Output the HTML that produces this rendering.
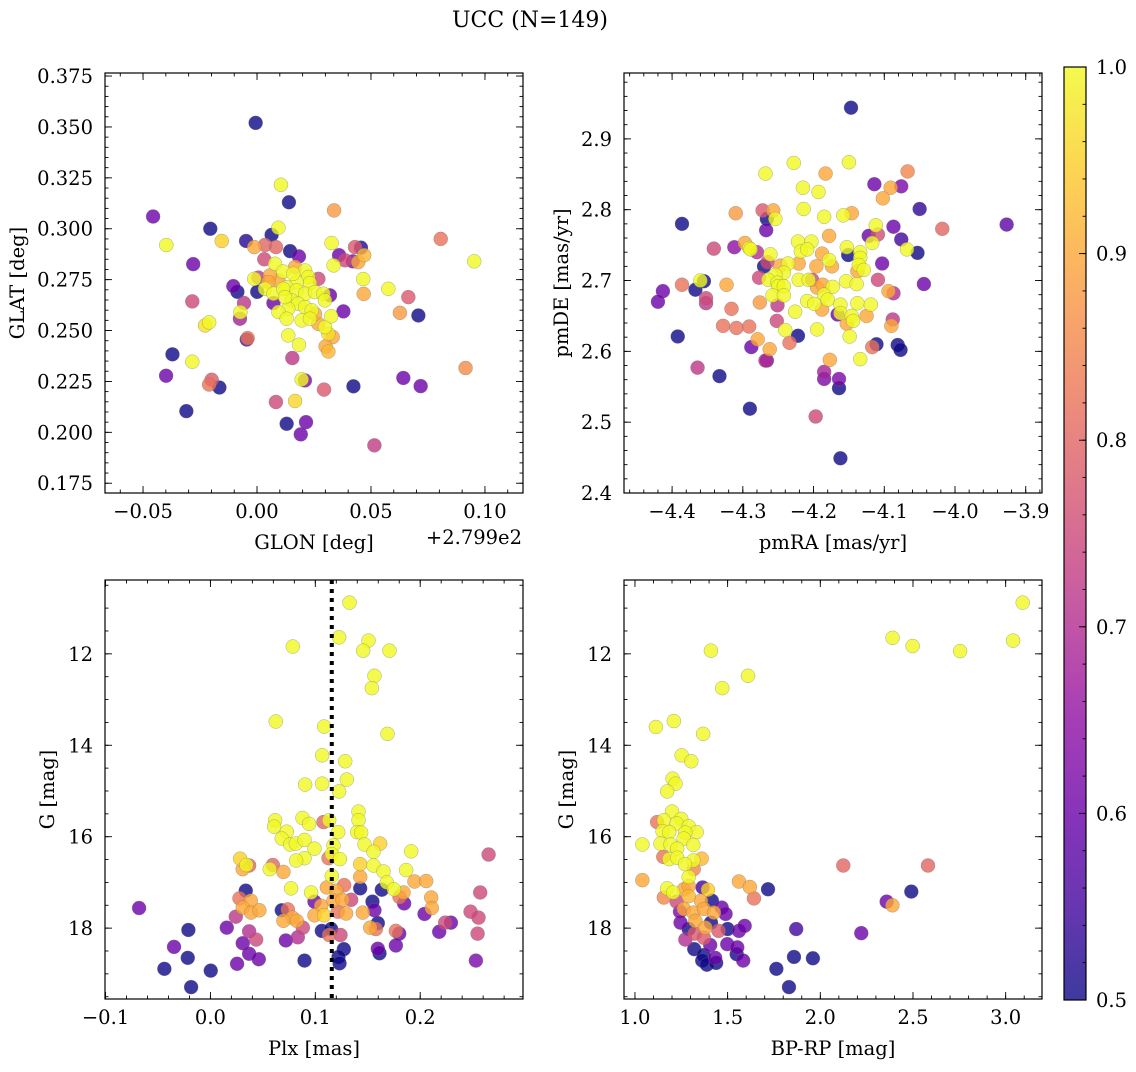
<!DOCTYPE html>
<html><head><meta charset="utf-8"><style>
html,body{margin:0;padding:0;background:#fff;}
svg text{font-family:"DejaVu Serif","Liberation Serif",serif;fill:#000;}
</style></head><body>
<svg id="fig" width="1136" height="1067" viewBox="0 0 1136 1067" xmlns="http://www.w3.org/2000/svg">
<text x="530" y="27" font-size="22" text-anchor="middle">UCC (N=149)</text>
</svg>
<script>
// ---------- data ----------
// Panel 1: GLON offset (deg, relative to 279.9), GLAT (deg), membership prob
const glonX=[-0.0006,0.0105,0.014,-0.0456,0.0338,-0.0205,0.0094,0.0064,-0.0398,-0.0155,-0.0048,-0.0012,0.0035,0.0083,0.0327,0.043,0.0456,0.0806,0.0953,0.0145,0.0184,0.0032,0.036,0.0386,0.042,0.0444,0.047,0.0336,-0.028,0.0466,0.0468,0.0576,0.0664,0.0627,0.0708,0.0379,-0.0284,-0.0104,-0.0086,-0.0012,0.0006,0.0001,-0.0057,-0.0075,-0.0073,-0.0228,-0.021,-0.0045,-0.0041,-0.0371,-0.0284,-0.0399,-0.0199,-0.021,-0.0165,-0.031,0.0155,0.0137,0.0184,0.0196,0.021,0.0083,0.0167,0.013,0.0215,0.0192,0.0294,0.0423,0.0515,0.0642,0.0718,0.0915,0.0298,0.0313,0.0332,0.0301,0.0313,0.0325,0.0269,0.0079,0.0115,0.0167,0.0211,0.0225,0.0232,0.0269,0.0174,0.013,0.0094,0.0057,0.0035,0.0072,0.0115,0.0174,0.0211,0.0254,0.0291,0.032,0.0152,0.0181,0.0211,0.024,0.0137,0.0094,0.0072,0.0196,0.0232,0.0254,0.005,0.0159,0.013,0.0298,0.0123];
const glatY=[0.352,0.3216,0.313,0.306,0.309,0.300,0.3005,0.297,0.292,0.294,0.294,0.291,0.292,0.291,0.293,0.291,0.2907,0.295,0.284,0.289,0.2864,0.285,0.287,0.2845,0.284,0.2836,0.287,0.282,0.2826,0.2753,0.268,0.2705,0.2664,0.2587,0.2574,0.2594,0.2643,0.2718,0.269,0.2754,0.276,0.269,0.2635,0.2558,0.259,0.2525,0.254,0.2456,0.2463,0.2383,0.2347,0.2278,0.2258,0.2235,0.222,0.2104,0.2365,0.2476,0.243,0.226,0.2255,0.2149,0.2154,0.2042,0.205,0.199,0.221,0.2226,0.1936,0.2267,0.2227,0.2316,0.2517,0.2484,0.2468,0.2422,0.2397,0.257,0.2533,0.2828,0.279,0.2812,0.2795,0.2763,0.2733,0.2754,0.2738,0.2713,0.2746,0.2771,0.2705,0.2681,0.2705,0.2697,0.2681,0.2689,0.2681,0.2673,0.2648,0.2632,0.2615,0.2599,0.2607,0.2591,0.2635,0.255,0.2558,0.2582,0.2738,0.2779,0.2558,0.2648,0.2664];
const glonP=[0.5,1,0.5,0.6,0.88,0.5,1,0.5,1,0.95,0.52,0.9,0.8,0.8,1,0.78,0.52,0.82,1,0.5,0.6,0.75,0.6,0.75,0.62,0.9,0.92,1,0.6,1,0.9,1,0.78,0.88,0.5,0.6,0.75,0.6,0.5,1,0.72,0.5,0.72,0.68,1,0.97,1,0.55,0.83,0.5,1,0.6,0.78,0.82,0.5,0.5,0.72,1,1,1,0.62,0.75,0.96,0.5,0.6,0.6,0.78,0.5,0.73,0.6,0.6,0.86,1,0.97,0.9,0.9,0.92,1,0.9,1,1,0.9,1,1,1,0.75,1,1,0.9,0.9,1,1,1,1,1,1,1,0.6,1,1,1,1,1,1,0.6,1,1,0.9,0.9,1,1,1,1];
// Panel 2: proper motions (mas/yr)
const pmRA=[-4.147,-4.228,-4.150,-4.268,-4.183,-4.067,-4.215,-4.193,-4.114,-4.091,-4.076,-4.102,-4.050,-4.214,-4.185,-4.158,-4.146,-4.310,-4.272,-4.257,-4.266,-4.254,-4.386,-3.927,-4.267,-4.178,-4.112,-4.087,-4.018,-4.122,-4.109,-4.076,-4.117,-4.068,-4.053,-4.297,-4.291,-4.289,-4.280,-4.312,-4.341,-4.261,-4.222,-4.203,-4.218,-4.209,-4.188,-4.153,-4.151,-4.134,-4.134,-4.103,-4.178,-4.174,-4.196,-4.221,-4.236,-4.247,-4.270,-4.265,-4.242,-4.254,-4.277,-4.264,-4.251,-4.250,-4.242,-4.258,-4.242,-4.251,-4.276,-4.221,-4.207,-4.202,-4.195,-4.187,-4.173,-4.185,-4.180,-4.209,-4.199,-4.188,-4.162,-4.138,-4.119,-4.154,-4.139,-4.136,-4.129,-4.138,-4.109,-4.044,-4.094,-4.087,-4.360,-4.355,-4.367,-4.386,-4.413,-4.420,-4.352,-4.352,-4.323,-4.316,-4.226,-4.166,-4.162,-4.146,-4.153,-4.144,-4.125,-4.088,-4.090,-4.252,-4.240,-4.195,-4.149,-4.222,-4.328,-4.309,-4.291,-4.279,-4.234,-4.288,-4.262,-4.392,-4.111,-4.117,-4.081,-4.077,-4.134,-4.177,-4.268,-4.266,-4.364,-4.333,-4.185,-4.185,-4.164,-4.164,-4.290,-4.197,-4.162];
const pmDE=[2.944,2.866,2.867,2.851,2.851,2.854,2.831,2.825,2.836,2.831,2.833,2.816,2.801,2.801,2.790,2.792,2.795,2.795,2.799,2.799,2.787,2.787,2.780,2.779,2.771,2.763,2.778,2.776,2.773,2.763,2.765,2.758,2.753,2.744,2.739,2.753,2.746,2.744,2.740,2.747,2.745,2.737,2.755,2.755,2.741,2.744,2.738,2.747,2.736,2.740,2.732,2.724,2.729,2.720,2.720,2.724,2.724,2.721,2.720,2.726,2.711,2.708,2.704,2.701,2.697,2.692,2.692,2.679,2.679,2.665,2.669,2.701,2.701,2.701,2.690,2.694,2.691,2.680,2.673,2.671,2.667,2.659,2.666,2.668,2.666,2.699,2.695,2.722,2.715,2.713,2.701,2.695,2.685,2.682,2.700,2.699,2.687,2.694,2.685,2.670,2.675,2.668,2.694,2.660,2.656,2.652,2.654,2.650,2.639,2.643,2.650,2.645,2.636,2.643,2.630,2.631,2.621,2.622,2.636,2.633,2.635,2.617,2.612,2.606,2.603,2.621,2.610,2.606,2.609,2.602,2.589,2.588,2.587,2.587,2.577,2.565,2.571,2.561,2.561,2.548,2.519,2.508,2.449];
const pmP=[0.5,1,1,1,0.9,0.85,1,1,0.6,0.9,0.62,0.9,0.53,1,1,1,0.9,0.88,0.78,0.9,0.5,1,0.5,0.58,0.6,0.9,1,0.6,0.8,0.6,0.76,0.55,1,1,0.5,0.9,1,1,0.7,0.65,0.75,1,1,1,1,1,0.9,1,0.5,1,1,0.6,1,0.9,0.9,0.9,1,0.9,0.5,0.75,1,1,0.75,1,1,1,1,1,1,0.72,0.88,1,1,0.75,0.9,0.9,1,1,1,1,1,0.9,1,1,1,1,1,1,1,0.9,0.75,0.6,0.9,0.7,1,0.5,0.5,0.82,0.6,0.6,0.75,0.72,0.9,0.82,1,0.6,1,1,0.9,1,0.9,0.72,0.9,0.75,1,1,1,0.5,0.82,0.82,0.82,0.9,0.82,0.6,0.9,0.5,0.5,0.82,0.5,0.5,1,0.9,0.7,0.6,0.72,0.5,0.68,0.62,0.62,0.5,0.5,0.75,0.5];
// Panel 3: parallax (mas), G (mag)
const plx=[0.1326,0.1227,0.0785,0.1507,0.1456,0.1707,0.1564,0.1539,0.0623,0.1084,0.1688,0.1065,0.1285,0.0903,0.1065,0.13,0.1227,0.1412,0.1412,0.1078,0.1132,0.0617,0.0607,0.0878,0.0941,0.0728,0.068,0.076,0.0814,0.0897,0.0992,0.1218,0.1399,0.1437,0.1469,0.1618,0.1555,0.1173,0.1914,0.1157,0.1126,0.1234,0.0897,0.0817,0.0283,0.0343,0.0369,0.0308,0.0595,0.0566,0.0696,0.1428,0.1555,0.165,0.1866,0.2652,0.1157,0.1428,0.1945,0.2057,0.1682,0.1749,0.1841,0.1803,0.2105,0.0769,0.096,0.111,0.1275,0.12,0.1428,0.1634,0.0337,0.2572,0.0277,0.0385,0.0308,0.0388,0.0467,0.0992,0.1056,0.1173,0.1259,0.1342,0.1214,0.1294,0.1453,0.1545,0.1564,0.1847,0.2111,0.2041,0.068,0.0738,0.0782,0.0696,0.0823,0.0881,0.0992,0.1084,-0.068,0.0242,0.0156,-0.021,0.0369,0.0436,0.0308,-0.0347,-0.0216,-0.0439,0.0003,-0.0184,0.0254,0.0369,0.0461,0.0719,0.0833,0.0897,0.1062,0.1151,0.1132,0.124,0.1272,0.1221,0.1231,0.1523,0.1577,0.1596,0.1596,0.1612,0.1768,0.18,0.1768,0.2181,0.2238,0.2293,0.248,0.2556,0.2547,0.2531];
const gPlx=[10.88,11.64,11.84,11.71,11.93,11.93,12.48,12.75,13.48,13.59,13.75,14.22,14.35,14.86,14.84,14.75,15.01,15.45,15.64,15.68,15.64,15.64,15.78,15.59,15.72,15.89,16.04,16.17,16.15,16.07,16.26,15.9,15.9,15.91,16.17,16.15,16.33,16.19,16.32,16.38,16.47,16.49,16.47,16.52,16.48,16.62,16.63,16.71,16.62,16.71,16.77,16.6,16.63,16.76,16.73,16.39,16.86,16.88,16.98,16.97,17.0,17.15,17.22,17.32,17.33,17.13,17.22,17.11,17.06,17.18,17.13,17.16,17.18,17.22,17.35,17.4,17.55,17.66,17.61,17.42,17.51,17.4,17.38,17.38,17.64,17.68,17.66,17.42,17.61,17.46,17.56,17.69,17.61,17.59,17.77,17.84,17.84,17.99,17.72,17.72,17.56,17.75,17.99,18.04,18.07,18.25,18.33,18.41,18.65,18.89,18.93,19.29,18.78,18.56,18.68,18.27,18.2,18.71,18.06,18.02,18.15,18.15,18.46,18.63,18.77,17.99,18.02,17.89,18.45,18.55,18.06,18.12,18.38,18.08,17.88,17.88,17.64,17.77,18.12,18.71];
const plxP=[1,1,1,1,1,1,1,1,1,1,1,1,1,1,1,1,1,1,1,0.8,1,1,1,1,1,1,1,1,1,1,1,1,1,1,1,0.95,1,1,1,1,0.82,1,1,1,0.95,1,0.8,0.9,0.8,1,0.9,0.95,1,1,1,0.75,1,0.9,0.9,0.9,1,1,0.9,0.82,0.9,1,1,0.9,0.82,0.9,0.5,0.5,0.5,0.75,0.82,0.9,0.9,0.9,0.9,0.6,0.9,0.9,0.9,0.75,0.82,0.9,0.9,0.5,0.6,0.6,0.9,0.6,0.5,0.82,0.9,0.9,0.9,0.75,0.9,0.95,0.6,0.72,0.6,0.5,0.7,0.75,0.6,0.6,0.5,0.5,0.5,0.5,0.6,0.6,0.6,0.6,0.7,0.5,0.5,0.5,0.82,0.75,0.5,0.5,0.5,0.9,0.82,0.5,0.6,0.5,0.82,0.6,0.6,0.6,0.75,0.6,0.75,0.75,0.75,0.62];
// Panel 4: colour BP-RP (mag), G (mag)
const bprp=[3.092,2.39,2.498,2.754,3.04,1.41,1.61,1.471,1.113,1.21,1.368,1.252,1.304,1.203,1.219,1.174,1.2,1.12,1.156,1.25,1.225,1.29,1.333,1.149,1.185,1.272,1.263,1.138,1.192,1.315,1.04,1.228,1.153,1.185,1.228,1.315,1.36,1.27,1.317,1.29,1.04,1.561,1.62,1.718,1.174,1.206,1.156,1.264,1.365,1.394,1.29,1.29,1.225,1.356,1.415,1.642,2.124,2.581,2.491,2.358,2.389,1.243,1.264,1.315,1.372,1.426,1.468,1.489,1.246,1.29,1.326,1.38,1.41,1.451,1.322,1.272,1.372,1.5,1.561,1.592,1.87,2.221,1.32,1.406,1.498,1.372,1.363,1.388,1.438,1.433,1.549,1.552,1.584,1.858,1.96,1.763,1.831];
const gCmd=[10.88,11.65,11.83,11.94,11.71,11.93,12.48,12.75,13.6,13.47,13.75,14.22,14.35,14.73,14.84,15.01,15.45,15.68,15.64,15.61,15.71,15.77,15.9,15.88,15.9,15.91,16.04,16.15,16.17,16.18,16.17,16.26,16.44,16.49,16.46,16.52,16.48,16.6,16.71,16.88,16.95,16.98,17.1,17.15,17.13,17.22,17.33,17.15,17.11,17.16,17.08,17.3,17.42,17.4,17.4,17.35,16.63,16.63,17.2,17.42,17.5,17.64,17.58,17.66,17.58,17.66,17.55,17.69,17.88,18.02,17.84,17.99,17.88,18.06,18.12,18.25,18.21,18.02,18.06,17.95,18.02,18.11,18.46,18.37,18.35,18.59,18.71,18.8,18.76,18.65,18.57,18.42,18.71,18.63,18.66,18.89,19.29];
const cmdP=[1,1,1,1,1,1,1,1,1,1,1,1,1,1,1,1,1,0.82,1,1,1,1,1,1,1,1,1,1,1,1,1,1,0.82,1,1,1,0.92,1,0.85,1,0.9,0.9,0.9,0.5,1,1,0.85,0.9,0.55,0.95,0.9,0.92,0.75,0.9,0.5,0.82,0.8,0.8,0.5,0.6,0.9,0.62,0.9,0.9,0.9,0.9,0.6,0.6,0.6,0.5,0.9,0.9,0.5,0.78,0.78,0.7,0.78,0.5,0.6,0.6,0.55,0.6,0.5,0.6,0.6,0.5,0.5,0.5,0.5,0.6,0.5,0.6,0.6,0.5,0.5,0.5,0.5];
// tick labels
const tlXTicks=[-0.05,0.00,0.05,0.10], tlYTicks=[0.175,0.200,0.225,0.250,0.275,0.300,0.325,0.350,0.375];
const trXTicks=[-4.4,-4.3,-4.2,-4.1,-4.0,-3.9], trYTicks=[2.4,2.5,2.6,2.7,2.8,2.9];
const blXTicks=[-0.1,0.0,0.1,0.2], gTicks=[12,14,16,18];
const brXTicks=[1.0,1.5,2.0,2.5,3.0];
const cbTicks=[0.5,0.6,0.7,0.8,0.9,1.0];
const plxMean=0.1157;

// ---------- rendering ----------
const NS="http://www.w3.org/2000/svg";
const svg=document.getElementById('fig');
const FS=19.5;
function mk(tag,attrs,parent){const e=document.createElementNS(NS,tag);for(const k in attrs)e.setAttribute(k,attrs[k]);(parent||svg).appendChild(e);return e;}
const stops=[[0,[13,8,135]],[0.1,[65,4,157]],[0.2,[106,0,168]],[0.3,[143,13,164]],[0.4,[177,42,144]],[0.5,[204,71,120]],[0.6,[225,100,98]],[0.7,[242,132,75]],[0.8,[252,166,54]],[0.9,[252,206,37]],[1,[240,249,33]]];
function plasma(t){t=Math.max(0,Math.min(1,t));for(let i=1;i<stops.length;i++){if(t<=stops[i][0]){const a=stops[i-1],b=stops[i];const f=(t-a[0])/(b[0]-a[0]);const c=a[1].map((v,j)=>Math.round(v+(b[1][j]-v)*f));return 'rgb('+c.join(',')+')';}}return 'rgb(240,249,33)';}
function pcol(p){return plasma((p-0.5)/0.5);}
function fmt(v,d){let s=v.toFixed(d);if(v<0||s.startsWith('-'))s='\u2212'+s.replace('-','');return s;}

function panel(o){
  const g=mk('g',{});
  
  
  const sx=v=>o.L+(v-o.x0)/(o.x1-o.x0)*(o.R-o.L);
  const sy=v=>o.B-(v-o.y0)/(o.y1-o.y0)*(o.B-o.T);
  const clipId='c'+o.name;
  const cp=mk('clipPath',{id:clipId},g);mk('rect',{x:o.L,y:o.T,width:o.R-o.L,height:o.B-o.T},cp);
  const pts=mk('g',{'clip-path':'url(#'+clipId+')'},g);
  
  
  const idx=o.xs.map((_,i)=>i).sort((a,b)=>o.ps[a]-o.ps[b]);
  idx.forEach(i=>{
    const c=mk('circle',{cx:sx(o.xs[i]),cy:sy(o.ys[i]),r:7,fill:pcol(o.ps[i]),'fill-opacity':0.8,stroke:'#777',"stroke-width":0.5,'stroke-opacity':0.6},pts);
    
    
  });
  if(o.vline!==undefined){
    const l=mk('line',{x1:sx(o.vline),x2:sx(o.vline),y1:o.T,y2:o.B,stroke:'#000','stroke-width':4,'stroke-dasharray':'4 5'},g);
    
    
  }
  const fr=mk('rect',{x:o.L,y:o.T,width:o.R-o.L,height:o.B-o.T,fill:'none',stroke:'#000','stroke-width':1.2},g);
  
  
  const tk=mk('g',{stroke:'#000','stroke-width':0.9},g);
  for(let v=Math.ceil(o.x0/o.xm-1e-9)*o.xm;v<=o.x1+1e-9;v+=o.xm){const X=sx(v);mk('line',{x1:X,x2:X,y1:o.B,y2:o.B-3.5},tk);mk('line',{x1:X,x2:X,y1:o.T,y2:o.T+3.5},tk);}
  for(let v=Math.ceil(o.y0/o.ym-1e-9)*o.ym;v<=o.y1+1e-9;v+=o.ym){const Y=sy(v);mk('line',{x1:o.L,x2:o.L+3.5,y1:Y,y2:Y},tk);mk('line',{x1:o.R,x2:o.R-3.5,y1:Y,y2:Y},tk);}
  o.xt.forEach(v=>{const X=sx(v);mk('line',{x1:X,x2:X,y1:o.B,y2:o.B-7},tk);mk('line',{x1:X,x2:X,y1:o.T,y2:o.T+7},tk);
    const t=mk('text',{x:X,y:o.B+25,'font-size':FS,'text-anchor':'middle'},g);t.textContent=fmt(v,o.xd);
    
    });
  o.yt.forEach(v=>{const Y=sy(v);mk('line',{x1:o.L,x2:o.L+7,y1:Y,y2:Y},tk);mk('line',{x1:o.R,x2:o.R-7,y1:Y,y2:Y},tk);
    const t=mk('text',{x:o.L-12,y:Y+7,'font-size':FS,'text-anchor':'end'},g);t.textContent=fmt(v,o.yd);
    
    });
  const xl=mk('text',{x:(o.L+o.R)/2,y:o.B+56,'font-size':FS,'text-anchor':'middle'},g);xl.textContent=o.xlab;
  
  
  const yx=o.ylx, yy=(o.T+o.B)/2;
  const yl=mk('text',{x:yx,y:yy,'font-size':FS,'text-anchor':'middle',transform:'rotate(-90 '+yx+' '+yy+')'},g);yl.textContent=o.ylab;
  
  
}

panel({name:'glon-glat-panel',L:105,R:523,T:73,B:493,x0:-0.0667,x1:0.1167,y0:0.1702,y1:0.3765,xm:0.01,ym:0.005,xt:tlXTicks,yt:tlYTicks,xd:2,yd:3,xs:glonX,ys:glatY,ps:glonP,xlab:'GLON [deg]',ylab:'GLAT [deg]',ylx:24});
panel({name:'pm-panel',L:624,R:1042,T:73,B:493,x0:-4.468,x1:-3.877,y0:2.4,y1:2.993,xm:0.02,ym:0.02,xt:trXTicks,yt:trYTicks,xd:1,yd:1,xs:pmRA,ys:pmDE,ps:pmP,xlab:'pmRA [mas/yr]',ylab:'pmDE [mas/yr]',ylx:568});
panel({name:'plx-panel',L:105,R:523,T:580,B:999,x0:-0.1005,x1:0.298,y0:-19.55,y1:-10.385,xm:0.02,ym:0.5,xt:blXTicks,yt:gTicks.map(v=>-v),xd:1,yd:0,xs:plx,ys:gPlx.map(v=>-v),ps:plxP,xlab:'Plx [mas]',ylab:'G [mag]',ylx:54,vline:plxMean});
panel({name:'cmd-panel',L:624,R:1042,T:580,B:999,x0:0.941,x1:3.196,y0:-19.55,y1:-10.385,xm:0.1,ym:0.5,xt:brXTicks,yt:gTicks.map(v=>-v),xd:1,yd:0,xs:bprp,ys:gCmd.map(v=>-v),ps:cmdP,xlab:'BP-RP [mag]',ylab:'G [mag]',ylx:573});
svg.querySelectorAll('text').forEach(t=>{if(/^\u2212\d+$/.test(t.textContent))t.textContent=t.textContent.slice(1);});

// colorbar
const cb=mk('g',{});


const CL=1064,CR=1086,CT=67,CB=1000;
const defs=mk('defs',{},cb);const lg=mk('linearGradient',{id:'cbg',x1:0,y1:1,x2:0,y2:0},defs);
for(let i=0;i<=20;i++){mk('stop',{offset:i/20,'stop-color':plasma(i/20)},lg);}
mk('rect',{x:CL,y:CT,width:CR-CL,height:CB-CT,fill:'url(#cbg)','fill-opacity':0.8},cb);
mk('rect',{x:CL,y:CT,width:CR-CL,height:CB-CT,fill:'none',stroke:'#000','stroke-width':1.2},cb);
const cy=v=>CB-(v-0.5)/0.5*(CB-CT);
for(let v=0.5;v<=1.0001;v+=0.02){mk('line',{x1:CR,x2:CR-3.5,y1:cy(v),y2:cy(v),stroke:'#000','stroke-width':0.9},cb);}
cbTicks.forEach(v=>{mk('line',{x1:CR,x2:CR-7,y1:cy(v),y2:cy(v),stroke:'#000','stroke-width':0.9},cb);
  const t=mk('text',{x:CR+10,y:cy(v)+7,'font-size':FS},cb);t.textContent=v.toFixed(1);
  
  });

const off=mk('text',{x:522,y:544,'font-size':FS,'text-anchor':'end'});off.textContent='+2.799e2';


</script>
</body></html>
